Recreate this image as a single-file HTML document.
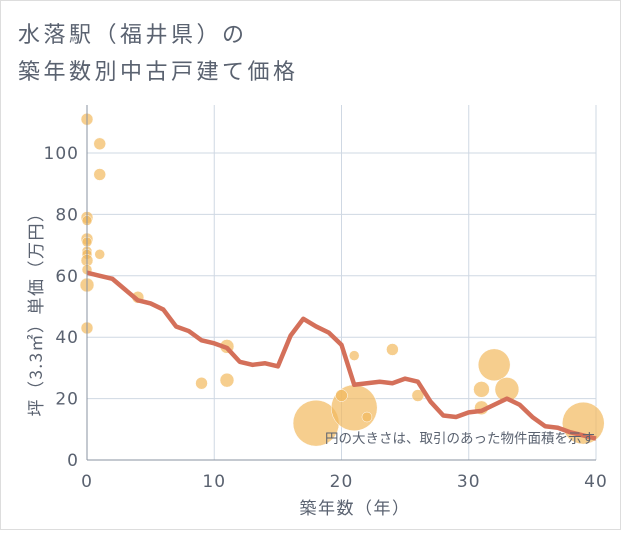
<!DOCTYPE html>
<html><head><meta charset="utf-8"><style>
body{margin:0;background:#fff;}
svg text{font-family:"DejaVu Sans","Noto Sans CJK JP",sans-serif;}
</style></head><body>
<svg width="621" height="530" viewBox="0 0 621 530">
<rect x="0.5" y="0.5" width="620" height="529" fill="#fff" stroke="#ddd"/>
<text x="18" y="42" font-size="22" letter-spacing="3.5" fill="#5a6270" style="font-family:'Noto Sans CJK JP',sans-serif">水落駅（福井県）の</text>
<text x="18" y="79" font-size="22" letter-spacing="3.5" fill="#5a6270" style="font-family:'Noto Sans CJK JP',sans-serif">築年数別中古戸建て価格</text>
<g id="grid"></g>
<g id="bubbles"></g>
<g id="line"></g>
<g id="axes"></g>
<text x="595" y="443" font-size="13.5" fill="#5a6270" text-anchor="end" style="font-family:'Noto Sans CJK JP',sans-serif">円の大きさは、取引のあった物件面積を示す</text>
<text x="355" y="514" font-size="17" letter-spacing="1.5" fill="#5a6270" text-anchor="middle" style="font-family:'Noto Sans CJK JP',sans-serif">築年数（年）</text>
<text transform="translate(42,310) rotate(-90)" font-size="17" letter-spacing="1.5" fill="#5a6270" text-anchor="middle" style="font-family:'Noto Sans CJK JP',sans-serif">坪（3.3㎡）単価（万円）</text>
</svg>
<script>
const lineYears=[0,1,2,3,4,5,6,7,8,9,10,11,12,13,14,15,16,17,18,19,20,21,22,23,24,25,26,27,28,29,30,31,32,33,34,35,36,37,38,39,40];
const lineValues=[61,60,59,55.5,52,51,49,43.5,42,39,38,36.5,32,31,31.5,30.5,40.5,46,43.5,41.5,37.5,24.5,25,25.5,25,26.5,25.5,19,14.5,14,15.5,16,18,20,18,14,11,10.5,9,8,7];
const bubbleX=[0,1,1,0,0,0,0,0,0,1,0,0,0,0,4,11,9,11,18,21,20,22,21,24,26,31,32,33,31,39];
const bubbleY=[111,103,93,79,78,72,71,68,67,67,65,62,57,43,53,37,25,26,12,17,21,14,34,36,21,23,31,23,17,12];
const bubbleR=[6,6,6,6,5,6,5,5,5,5,6,5,7,6,6,7,6,7,23,23,6,5,5,6,6,8,16,12,7,21];
const xTicks=[0,10,20,30,40];
const yTicks=[0,20,40,60,80,100];
const NS="http://www.w3.org/2000/svg";
const X0=87,X1=596,Y0=460,Y1=153;
const xs=v=>X0+(X1-X0)*v/40;
const ys=v=>Y0-(Y0-Y1)*v/100;
function mk(tag,attrs,parent){const e=document.createElementNS(NS,tag);for(const k in attrs)e.setAttribute(k,attrs[k]);parent.appendChild(e);return e;}
const grid=document.getElementById('grid');
xTicks.forEach(t=>{const l=mk('line',{x1:xs(t),x2:xs(t),y1:105,y2:Y0,stroke:'#cfd8e3','stroke-width':1},grid);

});
yTicks.forEach(t=>{const l=mk('line',{x1:X0,x2:X1,y1:ys(t),y2:ys(t),stroke:'#cfd8e3','stroke-width':1},grid);

});
const bub=document.getElementById('bubbles');
bubbleX.forEach((x,i)=>{const c=mk('circle',{cx:xs(x),cy:ys(bubbleY[i]),r:bubbleR[i],fill:'#f2b95e','fill-opacity':0.7,stroke:'#fff','stroke-width':0.5},bub);

});
const lg=document.getElementById('line');
const p=mk('polyline',{points:lineYears.map((y,i)=>xs(y)+','+ys(lineValues[i])).join(' '),fill:'none',stroke:'#d4705a','stroke-width':4.5,'stroke-linejoin':'round'},lg);


const ax=document.getElementById('axes');
const a1=mk('line',{x1:X0,x2:X1,y1:Y0,y2:Y0,stroke:'#8a93a0','stroke-width':1},ax);


const a2=mk('line',{x1:X0,x2:X0,y1:105,y2:Y0,stroke:'#8a93a0','stroke-width':1},ax);


xTicks.forEach(t=>{const e=mk('text',{x:xs(t),y:Y0+27,'font-size':17,'letter-spacing':1,fill:'#5a6270','text-anchor':'middle'},ax);e.textContent=t;

});
yTicks.forEach(t=>{const e=mk('text',{x:X0-8,y:ys(t)+6,'font-size':17,'letter-spacing':1,fill:'#5a6270','text-anchor':'end'},ax);e.textContent=t;

});
</script>
</body></html>
